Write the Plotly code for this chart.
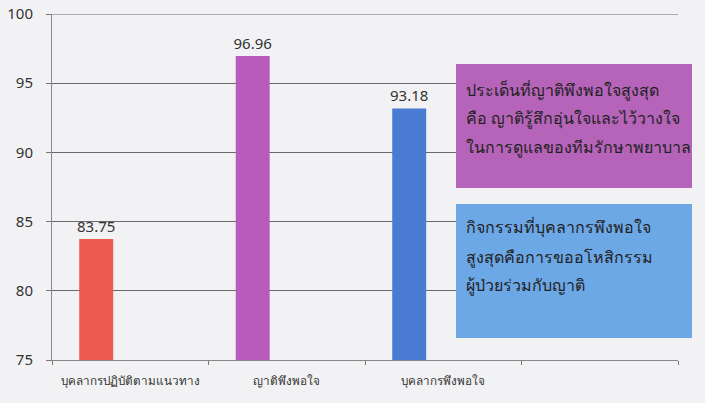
import plotly.graph_objects as go

categories = ["บุคลากรปฏิบัติตามแนวทาง", "ญาติพึงพอใจ", "บุคลากรพึงพอใจ"]
values = [83.75, 96.96, 93.18]
bar_colors = ["#EC5A51", "#B75BBD", "#4A7BD2"]
axis_slots = categories + [" "]
y_ticks = [75, 80, 85, 90, 95, 100]

note1_lines = ["ประเด็นที่ญาติพึงพอใจสูงสุด", "คือ ญาติรู้สึกอุ่นใจและไว้วางใจ", "ในการดูแลของทีมรักษาพยาบาล"]
note2_lines = ["กิจกรรมที่บุคลากรพึงพอใจ", "สูงสุดคือการขออโหสิกรรม", "ผู้ป่วยร่วมกับญาติ"]

FONT = "Noto Sans, DejaVu Sans, sans-serif"
BG = "#F2F2F4"

# plot area in screen pixels (for placing the note boxes)
PL, PT, PW, PH = 52, 14, 626, 346


def px(x):
    return (x - PL) / PW


def py(y):
    return (PT + PH - y) / PH


fig = go.Figure()
fig.add_trace(go.Bar(
    x=categories, y=values,
    marker=dict(color=bar_colors, line=dict(width=0)),
    width=0.217, offset=-0.326,
    text=[f"{v:.2f}" for v in values],
    textposition="outside",
    constraintext="none",
    textfont=dict(size=15, color="#333333", family=FONT),
    cliponaxis=False,
    hoverinfo="skip",
))

shapes = [
    dict(type="rect", xref="paper", yref="paper", x0=px(456), x1=px(692), y0=py(188), y1=py(64),
         fillcolor="#B564B9", line=dict(width=0), layer="above"),
    dict(type="rect", xref="paper", yref="paper", x0=px(456), x1=px(692), y0=py(338), y1=py(204),
         fillcolor="#6CA7E6", line=dict(width=0), layer="above"),
    # top gridline (100) drawn at the plot edge
    dict(type="line", xref="paper", yref="y", x0=0, x1=1, y0=y_ticks[-1], y1=y_ticks[-1],
         line=dict(color="#6A6A6A", width=1), layer="below"),
]

annotations = []
for lines, ys in ((note1_lines, [90, 118, 147]), (note2_lines, [227, 257, 285])):
    for line, yy in zip(lines, ys):
        annotations.append(dict(
            xref="paper", yref="paper", x=px(464), y=py(yy), xanchor="left", yanchor="middle",
            text=line, align="left", showarrow=False,
            font=dict(size=16, color="#222222", family=FONT)))

fig.update_layout(
    width=705, height=403,
    margin=dict(l=PL, r=705 - PL - PW, t=PT, b=403 - PT - PH, autoexpand=False),
    paper_bgcolor=BG, plot_bgcolor=BG,
    showlegend=False,
    font=dict(family=FONT, color="#333333"),
    xaxis=dict(
        type="category", categoryorder="array", categoryarray=axis_slots,
        range=[-0.5, 3.5], tickson="boundaries", automargin=False,
        ticks="outside", ticklen=4, tickcolor="#777777",
        showline=True, linecolor="#888888", linewidth=1,
        showgrid=False, tickfont=dict(size=11.7, color="#333333"),
        ticklabeloverflow="allow", ticklabelstandoff=10,
    ),
    yaxis=dict(
        range=[75, 100], tickvals=y_ticks, automargin=False,
        ticks="outside", ticklen=5, tickcolor="#777777",
        showline=True, linecolor="#888888", linewidth=1,
        showgrid=True, gridcolor="#6A6A6A", gridwidth=1,
        zeroline=False, tickfont=dict(size=15, color="#333333"),
        ticklabeloverflow="allow", ticklabelstandoff=10,
    ),
    shapes=shapes,
    annotations=annotations,
)

fig.write_html(
    "out.html",
    config={"displayModeBar": False},
    post_script=f"document.body.style.margin='0';document.body.style.background='{BG}';",
)
